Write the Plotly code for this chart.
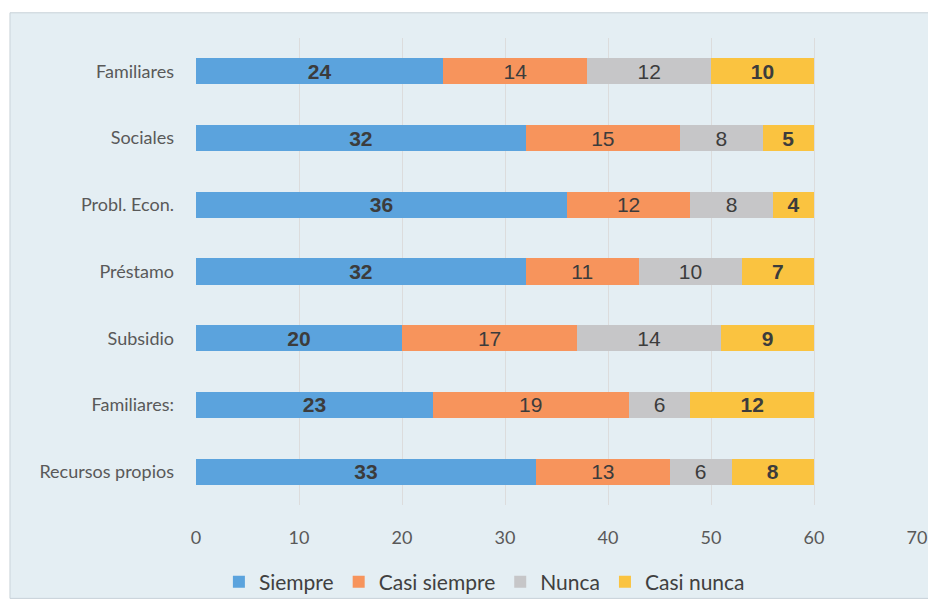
import plotly.graph_objects as go

categories = ["Familiares", "Sociales", "Probl. Econ.", "Préstamo", "Subsidio", "Familiares:", "Recursos propios"]
siempre = [24, 32, 36, 32, 20, 23, 33]
casi_siempre = [14, 15, 12, 11, 17, 19, 13]
nunca = [12, 8, 8, 10, 14, 6, 6]
casi_nunca = [10, 5, 4, 7, 9, 12, 8]
x_ticks = [0, 10, 20, 30, 40, 50, 60, 70]

series = [
    ("Siempre", siempre, "#5ba3dd", True),
    ("Casi siempre", casi_siempre, "#f7945c", False),
    ("Nunca", nunca, "#c6c6c8", False),
    ("Casi nunca", casi_nunca, "#fac340", True),
]

fig = go.Figure()
for name, vals, color, bold in series:
    fig.add_trace(go.Bar(
        y=categories, x=vals, name=name, orientation="h",
        marker=dict(color=color, line=dict(width=0)),
        text=[f"<b>{v}</b>" if bold else str(v) for v in vals],
        textposition="inside", insidetextanchor="middle", textangle=0,
        constraintext="none",
        textfont=dict(family="Arial", size=21, color="#3c3c3c"),
        hoverinfo="skip",
    ))

fig.update_layout(
    barmode="stack",
    bargap=0.61,
    width=928, height=604,
    margin=dict(l=188, r=19, t=30, b=107, autoexpand=False),
    paper_bgcolor="white",
    plot_bgcolor="white",
    font=dict(family="Lato", size=18, color="#595959"),
    uniformtext=dict(mode="show", minsize=21),
    xaxis=dict(range=[0, 70], tickvals=x_ticks, showgrid=True, gridcolor="#dcdcdc",
               gridwidth=1, zeroline=False, showline=False, ticks="",
               ticklabelstandoff=20,
               tickfont=dict(family="Lato", size=18, color="#595959")),
    yaxis=dict(categoryorder="array", categoryarray=categories, autorange="reversed",
               showgrid=False, ticks="", ticklabelstandoff=21,
               tickfont=dict(family="Lato", size=18, color="#595959")),
    legend=dict(orientation="h", x=0.40, xanchor="center", y=-0.165, yanchor="middle",
                font=dict(family="Lato", size=21, color="#404040"),
                itemwidth=30, traceorder="normal", bgcolor="rgba(0,0,0,0)"),
    shapes=[dict(type="rect", xref="paper", yref="paper", x0=-0.258, x1=1.05, y0=-0.2, y1=1.054,
                 fillcolor="#e4eef3", line=dict(color="#c8d2d8", width=1), layer="below")],
)

fig.write_html("out.html")
